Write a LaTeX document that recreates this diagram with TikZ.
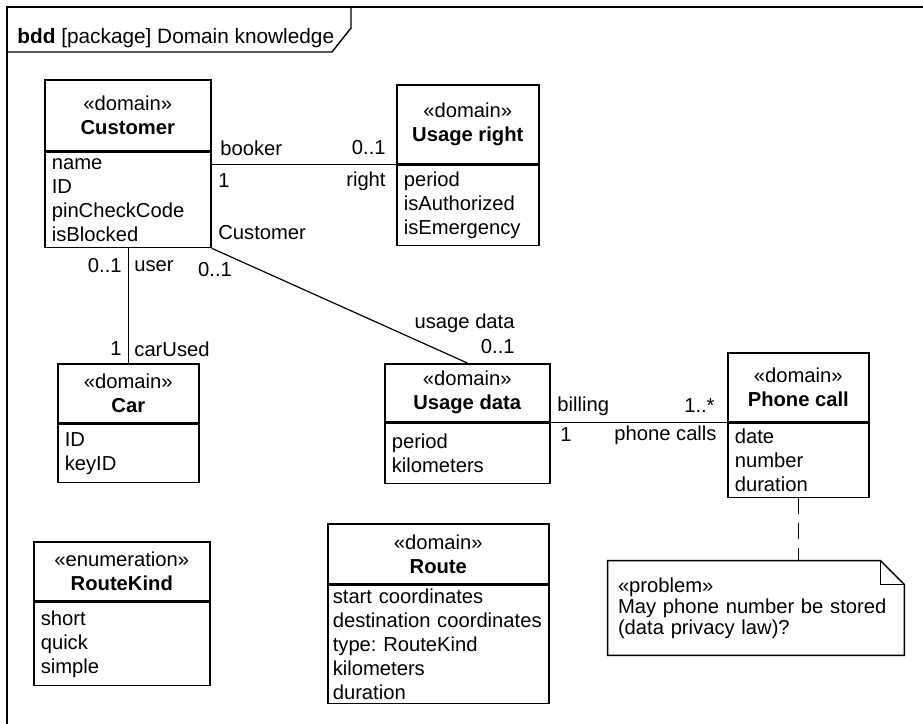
\documentclass[tikz,border=0pt]{standalone}
\usepackage{fontspec}
\setmainfont{Liberation Sans}
\usetikzlibrary{positioning}

\begin{document}
\frenchspacing
\begin{tikzpicture}[
  x=1pt, y=-1pt,
  every node/.style={font=\fontsize{10.1}{12}\selectfont},
  head/.style={draw, line width=0.8pt, minimum width=#1, inner sep=0pt,
               align=center, anchor=north west},
  attrs/.style={draw, line width=0.8pt, text width=#1, inner xsep=3.5pt,
                inner ysep=0pt, align=left},
  lbl/.style={inner sep=0pt},
  assoc/.style={line width=0.6pt}
]
\useasboundingbox (0,0) rectangle (461.5,362);

% frame and its name tab
\draw[line width=0.8pt] (3.5,362) -- (3.5,3.5) -- (461.5,3.5);
\draw[line width=0.7pt] (3.5,26) -- (166,26) -- (175.5,14) -- (175.5,3.5);
\node[lbl, anchor=west, font=\fontsize{10.4}{12}\selectfont] (title) at (8.5,19)
  {\textbf{bdd} [package] Domain knowledge};

% blocks
\node[head=83pt, minimum height=35.5pt] (cust) at (22,39.5)
  {«domain»\\\textbf{Customer}};
\node[attrs=76pt, minimum height=47.5pt, below=0pt of cust] (custA)
  {name\\ID\\pinCheckCode\\isBlocked};

\node[head=71pt, minimum height=39.5pt] (ur) at (198,42)
  {«domain»\\\textbf{Usage right}};
\node[attrs=64pt, minimum height=40pt, below=0pt of ur] (urA)
  {period\\isAuthorized\\isEmergency};

\node[head=70.5pt, minimum height=29.5pt] (car) at (28.5,181.5)
  {«domain»\\\textbf{Car}};
\node[attrs=63.5pt, minimum height=29pt, below=0pt of car] (carA)
  {ID\\keyID};

\node[head=82.5pt, minimum height=29pt] (ud) at (192,181.5)
  {«domain»\\\textbf{Usage data}};
\node[attrs=75.5pt, minimum height=30pt, below=0pt of ud] (udA)
  {period\\kilometers};

\node[head=70.5pt, minimum height=34.5pt] (pc) at (363.5,176)
  {«domain»\\\textbf{Phone call}};
\node[attrs=63.5pt, minimum height=37pt, below=0pt of pc] (pcA)
  {date\\number\\duration};

\node[head=88pt, minimum height=29.5pt] (rk) at (16.5,270.5)
  {«enumeration»\\\textbf{RouteKind}};
\node[attrs=81pt, minimum height=41.5pt, below=0pt of rk] (rkA)
  {short\\quick\\simple};

\node[head=110.5pt, minimum height=30pt] (route) at (163.5,261.5)
  {«domain»\\\textbf{Route}};
\node[attrs=105.5pt, inner xsep=2.5pt, minimum height=59pt, below=0pt of route] (routeA)
  {start coordinates\\destination coordinates\\type: RouteKind\\kilometers\\duration};

% note
\node[text width=138pt, inner xsep=5pt, minimum height=47pt, align=left,
      font=\fontsize{10.1}{10.5}\selectfont] (note) at (378,304)
  {«problem»\\May phone number be stored\\(data privacy law)?};
\draw[line width=0.7pt] (note.north west) -- ([xshift=-12pt]note.north east)
  -- ([yshift=-12pt]note.north east) -- (note.south east) -- (note.south west) -- cycle;
\draw[line width=0.7pt] ([xshift=-12pt]note.north east) |- ([yshift=-12pt]note.north east);

% associations
\draw[assoc] (urA.north west) -- (urA.north west -| custA.east);
\node[lbl, anchor=west] (booker) at (110,74) {booker};
\node[lbl, anchor=east] (mUr) at (193,74) {0..1};
\node[lbl, anchor=west] (mCust) at (109,90.5) {1};
\node[lbl, anchor=east] (right) at (193,90.5) {right};
\node[lbl, anchor=west] (custRole) at (109,116.5) {Customer};

\draw[assoc] (car.north) -- (car.north |- custA.south);
\node[lbl, anchor=east] (mUser) at (61,133) {0..1};
\node[lbl, anchor=west] (user) at (67,133) {user};
\node[lbl, anchor=east] (mCar) at (61,174.5) {1};
\node[lbl, anchor=west] (carUsed) at (67,174.5) {carUsed};

\draw[assoc] (custA.south east) -- (ud.north);
\node[lbl] (mCust2) at (107.5,135) {0..1};
\node[lbl, anchor=east] (usageData) at (257.5,161.5) {usage data};
\node[lbl, anchor=east] (mUd) at (257.5,173.5) {0..1};

\draw[assoc] (udA.north east) -- (pcA.north west);
\node[lbl, anchor=west] (billing) at (278.5,203) {billing};
\node[lbl, anchor=east] (mPc) at (357.5,203) {1..*};
\node[lbl, anchor=west] (mUd2) at (280,217.5) {1};
\node[lbl, anchor=east] (phoneCalls) at (358.5,217.5) {phone calls};

\draw[assoc, dash pattern=on 8pt off 4.5pt] (pcA.south) -- (pcA.south |- note.north);
\end{tikzpicture}
\end{document}
